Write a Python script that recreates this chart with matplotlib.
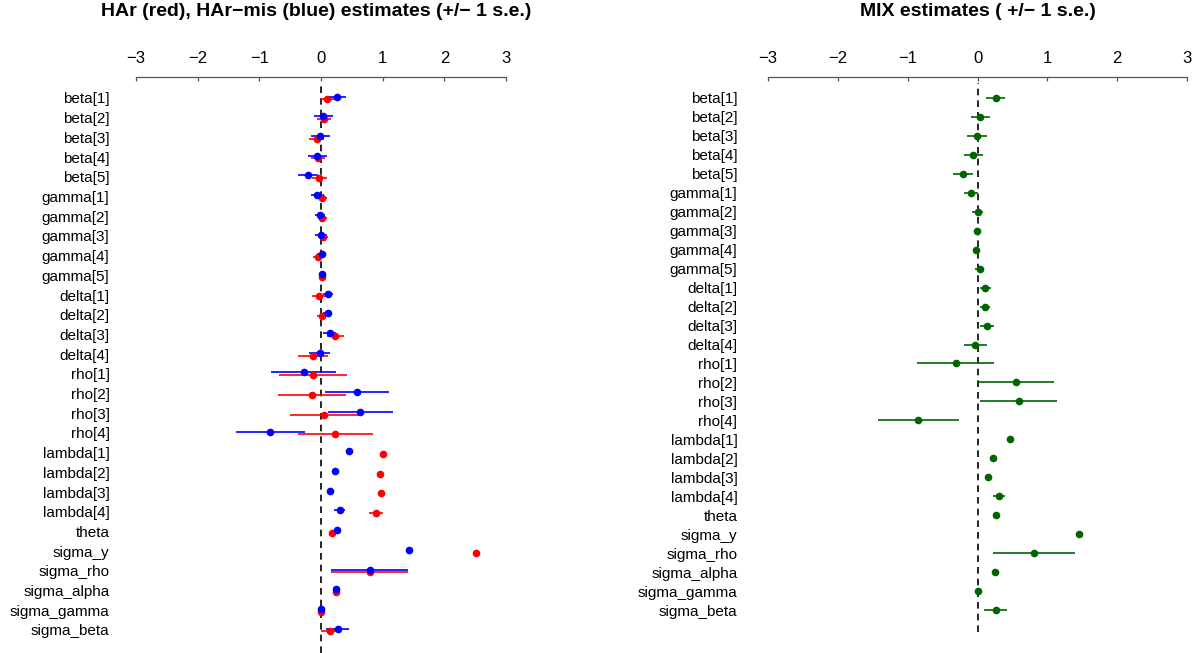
import numpy as np
import matplotlib
matplotlib.use('Agg')
import matplotlib.pyplot as plt

plt.rcParams['font.family'] = ['Liberation Sans', 'DejaVu Sans']

params = ['beta[1]', 'beta[2]', 'beta[3]', 'beta[4]', 'beta[5]',
          'gamma[1]', 'gamma[2]', 'gamma[3]', 'gamma[4]', 'gamma[5]',
          'delta[1]', 'delta[2]', 'delta[3]', 'delta[4]',
          'rho[1]', 'rho[2]', 'rho[3]', 'rho[4]',
          'lambda[1]', 'lambda[2]', 'lambda[3]', 'lambda[4]',
          'theta', 'sigma_y', 'sigma_rho', 'sigma_alpha', 'sigma_gamma', 'sigma_beta']

# HAr (red)
har_est = [0.10, 0.05, -0.07, -0.05, -0.03,
           0.02, 0.02, 0.04, -0.05, 0.01,
           -0.03, 0.01, 0.23, -0.13,
           -0.13, -0.14, 0.05, 0.23,
           1.00, 0.96, 0.97, 0.89,
           0.18, 2.52, 0.79, 0.25, 0.00, 0.14]
har_se = [0.12, 0.12, 0.12, 0.12, 0.12,
          0.08, 0.07, 0.08, 0.08, 0.04,
          0.11, 0.08, 0.14, 0.24,
          0.55, 0.55, 0.56, 0.61,
          0.02, 0.02, 0.02, 0.11,
          0.05, 0.01, 0.62, 0.06, 0.01, 0.14]

# HAr-mis (blue)
mis_est = [0.26, 0.04, -0.01, -0.06, -0.21,
           -0.06, -0.02, 0.00, 0.01, 0.02,
           0.11, 0.11, 0.14, -0.02,
           -0.28, 0.58, 0.64, -0.82,
           0.46, 0.22, 0.14, 0.30,
           0.26, 1.43, 0.79, 0.25, 0.00, 0.27]
mis_se = [0.15, 0.15, 0.16, 0.15, 0.16,
          0.11, 0.08, 0.10, 0.07, 0.06,
          0.08, 0.07, 0.11, 0.17,
          0.53, 0.52, 0.52, 0.56,
          0.01, 0.01, 0.01, 0.09,
          0.05, 0.01, 0.62, 0.04, 0.01, 0.19]

# MIX (green)
mix_est = [0.26, 0.04, -0.01, -0.06, -0.21,
           -0.10, 0.00, -0.01, -0.02, 0.03,
           0.11, 0.11, 0.13, -0.03,
           -0.31, 0.55, 0.59, -0.85,
           0.47, 0.22, 0.15, 0.31,
           0.26, 1.45, 0.81, 0.25, 0.00, 0.26]
mix_se = [0.14, 0.14, 0.14, 0.14, 0.14,
          0.10, 0.08, 0.03, 0.03, 0.06,
          0.08, 0.07, 0.10, 0.17,
          0.55, 0.55, 0.55, 0.58,
          0.01, 0.01, 0.01, 0.09,
          0.03, 0.01, 0.59, 0.01, 0.01, 0.16]

W, H = 1202, 653
TOP = 77
fig = plt.figure(figsize=(W / 100, H / 100), dpi=100)


def setup(ax, npar, pad):
    ax.set_xlim(-3, 3)
    for s in ['left', 'right', 'bottom']:
        ax.spines[s].set_visible(False)
    ax.spines['top'].set_bounds(-3, 3)
    ax.spines['top'].set_linewidth(0.9)
    ax.spines['top'].set_color('#555555')
    ax.xaxis.set_ticks_position('top')
    ax.set_xticks(range(-3, 4))
    ax.tick_params(axis='x', labelsize=12, direction='in', length=3,
                   width=0.9, color='#555555', pad=8)
    ax.set_yticks(np.arange(npar))
    ax.set_yticklabels(params, fontsize=11)
    ax.tick_params(axis='y', length=0, pad=pad)
    ax.axvline(0, ymax=0.99, color='black', ls=(0, (4, 3)), lw=1.2, zorder=1)


def coef(ax, y, est, se, color):
    est = np.array(est)
    se = np.array(se)
    ax.hlines(y, est - se, est + se, color=color, lw=1.2, zorder=2)
    ax.plot(est, y, 'o', color=color, ms=5.5, mec='none', zorder=3)


n = len(params)
y = np.arange(n)

# left panel: rows at 98..630 px
step = (630 - 98) / (n - 1)
axL = fig.add_axes([136 / W, 1 - 653 / H, 370 / W, (653 - TOP) / H])
setup(axL, n, 19)
axL.set_ylim((653 - 98) / step, -(98 - TOP) / step)
coef(axL, y + 0.07, har_est, har_se, 'red')
coef(axL, y - 0.07, mis_est, mis_se, 'blue')

# right panel: rows at 98..610 px
step = (610 - 98) / (n - 1)
axR = fig.add_axes([768 / W, 1 - 632 / H, 419 / W, (632 - TOP) / H])
setup(axR, n, 22)
axR.set_ylim((632 - 98) / step, -(98 - TOP) / step)
coef(axR, y, mix_est, mix_se, 'darkgreen')

fig.text(316 / W, 1 - 12 / H, 'HAr (red), HAr\u2212mis (blue) estimates (+/\u2212 1 s.e.)',
         ha='center', va='center', fontsize=14, fontweight='bold')
fig.text(978 / W, 1 - 12 / H, 'MIX estimates ( +/\u2212 1 s.e.)',
         ha='center', va='center', fontsize=14, fontweight='bold')

fig.savefig('out.png', dpi=100)
